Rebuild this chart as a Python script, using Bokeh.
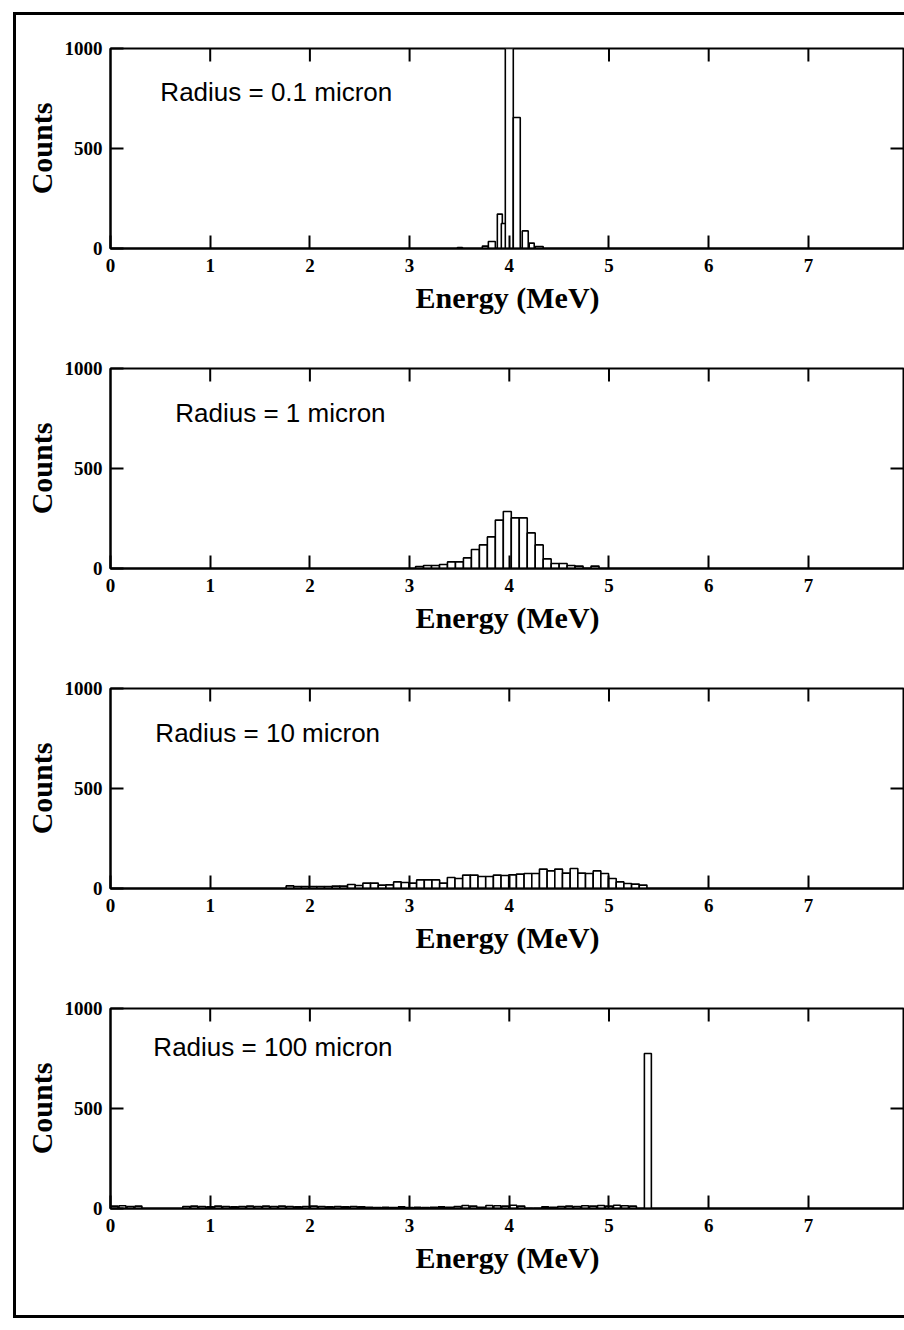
import numpy as np
from bokeh.plotting import figure
from bokeh.layouts import column
from bokeh.models import FixedTicker, Range1d, Label
from bokeh.embed import file_html
from bokeh.resources import INLINE

# ---------------- data ----------------
x_ticks = [0, 1, 2, 3, 4, 5, 6, 7, 8]
y_ticks = [0, 500, 1000]
radius_labels = ["Radius = 0.1 micron", "Radius = 1 micron",
                 "Radius = 10 micron", "Radius = 100 micron"]

# Radius = 0.1 micron (bin low edge, high edge, counts)
lo1 = [3.48, 3.73, 3.79, 3.88, 3.92, 3.96, 4.04, 4.13, 4.20, 4.26]
hi1 = [3.53, 3.79, 3.86, 3.93, 3.97, 4.04, 4.11, 4.19, 4.25, 4.34]
counts1 = [5, 12, 35, 172, 125, 1000, 655, 88, 27, 10]

# Radius = 1 micron (bin centres, counts)
energy2 = [3.10, 3.18, 3.26, 3.34, 3.42, 3.50, 3.58, 3.66, 3.74, 3.82,
           3.90, 3.98, 4.06, 4.14, 4.22, 4.30, 4.38, 4.46, 4.54, 4.62,
           4.70, 4.78, 4.86]
counts2 = [10, 15, 15, 20, 33, 33, 53, 95, 118, 158,
           242, 285, 253, 253, 178, 118, 48, 25, 25, 15,
           12, 0, 12]
width2 = 0.08

# Radius = 10 micron
energy3 = [1.800, 1.877, 1.954, 2.031, 2.108, 2.185, 2.262, 2.339, 2.416, 2.493,
           2.570, 2.647, 2.724, 2.801, 2.878, 2.955, 3.032, 3.109, 3.186, 3.263,
           3.340, 3.417, 3.494, 3.571, 3.648, 3.725, 3.802, 3.879, 3.956, 4.033,
           4.110, 4.187, 4.264, 4.341, 4.418, 4.495, 4.572, 4.649, 4.726, 4.803,
           4.880, 4.957, 5.034, 5.111, 5.188, 5.265, 5.342]
counts3 = [13, 10, 10, 10, 10, 10, 12, 12, 20, 15,
           27, 27, 17, 18, 33, 30, 27, 43, 43, 43,
           27, 55, 50, 67, 67, 60, 60, 67, 65, 68,
           72, 75, 75, 97, 88, 97, 77, 100, 77, 75,
           88, 75, 50, 33, 25, 22, 17]
width3 = 0.077

# Radius = 100 micron
energy4 = [0.04, 0.12, 0.20, 0.28,
           0.76, 0.84, 0.92, 1.00, 1.08, 1.16, 1.24, 1.32, 1.40, 1.48,
           1.56, 1.64, 1.72, 1.80, 1.88, 1.96, 2.04, 2.12, 2.20, 2.28,
           2.36, 2.44, 2.52, 2.60, 2.68, 2.76, 2.84, 2.92, 3.00, 3.08,
           3.16, 3.24, 3.32, 3.40, 3.48, 3.56, 3.64, 3.72, 3.80, 3.88,
           3.96, 4.04, 4.12, 4.20, 4.28, 4.36, 4.44, 4.52, 4.60, 4.68,
           4.76, 4.84, 4.92, 5.00, 5.08, 5.16, 5.24,
           5.39]
counts4 = [12, 14, 10, 12,
           10, 12, 10, 8, 12, 10, 8, 10, 12, 10,
           12, 10, 12, 10, 8, 10, 12, 10, 8, 10,
           8, 10, 8, 6, 5, 6, 5, 8, 5, 6,
           5, 6, 8, 6, 10, 15, 12, 6, 15, 14,
           12, 16, 12, 0, 0, 8, 6, 10, 12, 10,
           14, 12, 15, 12, 16, 14, 12,
           775]
width4 = 0.07

# label positions (data units) per panel
label_x = [0.50, 0.65, 0.45, 0.43]
label_y = [781, 776, 776, 806]

# ---------------- styling ----------------
SERIF = "Liberation Serif"
SANS = "Liberation Sans"
X_END = 7.964
FIG_W = 888


def make_panel(lo, hi, cnt, label, lx, ly, height, bottom_border):
    p = figure(width=FIG_W, height=height, output_backend="svg",
               toolbar_location=None,
               x_range=Range1d(0, X_END), y_range=Range1d(0, 1000),
               min_border_left=94, min_border_right=0,
               min_border_top=33, min_border_bottom=bottom_border,
               background_fill_color="white", border_fill_color="white")
    p.xgrid.visible = False
    p.ygrid.visible = False
    p.outline_line_color = "black"
    p.outline_line_width = 2
    p.outline_line_alpha = 1

    # bottom axis
    xa = p.xaxis[0]
    xa.ticker = FixedTicker(ticks=x_ticks)
    xa.major_tick_in = 13
    xa.major_tick_out = 0
    xa.minor_tick_in = 0
    xa.minor_tick_out = 0
    xa.major_tick_line_width = 2
    xa.axis_line_width = 2
    xa.major_label_standoff = 10
    xa.major_label_text_font = SERIF
    xa.major_label_text_font_style = "bold"
    xa.major_label_text_font_size = "19px"
    xa.major_label_text_color = "black"
    xa.axis_label = "Energy (MeV)"
    xa.axis_label_text_font = SERIF
    xa.axis_label_text_font_style = "bold"
    xa.axis_label_text_font_size = "30px"
    xa.axis_label_text_color = "black"
    xa.axis_label_standoff = 6

    # left axis
    ya = p.yaxis[0]
    ya.ticker = FixedTicker(ticks=y_ticks)
    ya.major_tick_in = 13
    ya.major_tick_out = 0
    ya.minor_tick_in = 0
    ya.minor_tick_out = 0
    ya.major_tick_line_width = 2
    ya.axis_line_width = 2
    ya.major_label_standoff = 8
    ya.major_label_text_font = SERIF
    ya.major_label_text_font_style = "bold"
    ya.major_label_text_font_size = "19px"
    ya.major_label_text_color = "black"
    ya.axis_label = "Counts"
    ya.axis_label_text_font = SERIF
    ya.axis_label_text_font_style = "bold"
    ya.axis_label_text_font_size = "30px"
    ya.axis_label_text_color = "black"
    ya.axis_label_standoff = 4

    # top ticks (inward) at the inner x ticks
    inner = x_ticks[1:-1]
    p.ray(x=inner, y=[y_ticks[-1]] * len(inner), length=13,
          length_units="screen", angle=-np.pi / 2,
          line_color="black", line_width=2)

    # right tick at 500 (frame edge is the window edge)
    p.ray(x=[X_END], y=[y_ticks[1]], length=14, length_units="screen",
          angle=np.pi, line_color="black", line_width=2)

    p.quad(left=lo, right=hi, bottom=0, top=cnt,
           fill_color="white", line_color="black", line_width=1.6)

    p.add_layout(Label(x=lx, y=ly, text=label, text_font=SANS,
                       text_font_size="26px", text_baseline="middle",
                       text_color="black"))
    return p


def centres_to_edges(e, w):
    e = np.asarray(e, dtype=float)
    return list(e - w / 2), list(e + w / 2)


lo2, hi2 = centres_to_edges(energy2, width2)
lo3, hi3 = centres_to_edges(energy3, width3)
lo4, hi4 = centres_to_edges(energy4, width4)

p1 = make_panel(lo1, hi1, counts1, radius_labels[0], label_x[0], label_y[0], 320, 87)
p2 = make_panel(lo2, hi2, counts2, radius_labels[1], label_x[1], label_y[1], 320, 87)
p3 = make_panel(lo3, hi3, counts3, radius_labels[2], label_x[2], label_y[2], 320, 87)
p4 = make_panel(lo4, hi4, counts4, radius_labels[3], label_x[3], label_y[3], 340, 107)

layout = column(p1, p2, p3, p4,
                styles={"border-left": "3px solid black",
                        "border-top": "3px solid black",
                        "border-bottom": "3px solid black",
                        "background-color": "white"},
                margin=(12, 0, 0, 13))

open("out.html", "w").write(file_html(layout, INLINE))
